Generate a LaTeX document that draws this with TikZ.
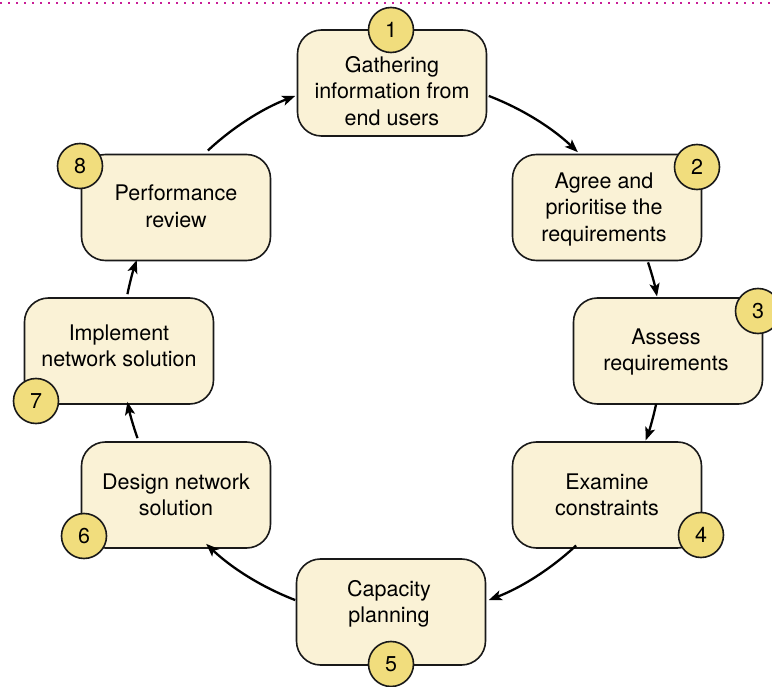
\documentclass[tikz,border=0pt]{standalone}
\usepackage{fontspec}
\setmainfont{TeX Gyre Heros}
\usetikzlibrary{arrows.meta,calc}
\definecolor{boxfill}{RGB}{250,242,214}
\definecolor{badgefill}{RGB}{241,221,125}
\definecolor{dotline}{RGB}{200,30,150}
\begin{document}
\begin{tikzpicture}[x=1pt,y=-1pt,
  stage/.style={draw=black!90, line width=1.6pt, fill=boxfill, rounded corners=24pt,
    minimum width=189pt, minimum height=106pt, inner sep=0pt},
  stagetext/.style={align=center, inner sep=0pt, font=\fontsize{21.5}{26.5}\selectfont, text=black},
  badge/.style={circle, draw=black!90, line width=1.6pt, fill=badgefill, minimum size=45pt,
    inner sep=0pt, font=\fontsize{21.5}{26}\selectfont},
  flow/.style={line width=2.3pt, -{Stealth[length=13pt,width=10pt,inset=3pt]}}]

\useasboundingbox (0,0) rectangle (772,687);
\draw[dotline, line width=1.8pt, dash pattern=on 1.6pt off 6.4pt] (0,3) -- (772,3);

% stage boxes
\node[stage] (b1) at (392,83) {};
\node[stage] (b2) at (607,207.5) {};
\node[stage] (b3) at (668,351) {};
\node[stage] (b4) at (607,495) {};
\node[stage] (b5) at (391,612) {};
\node[stage] (b6) at (176,495) {};
\node[stage] (b7) at (119,351) {};
\node[stage] (b8) at (176,207.5) {};

% stage texts
\node[stagetext] (t1) at ($(b1)+(0,8)$) {Gathering\\information from\\end users};
\node[stagetext] (t2) at ($(b2)+(-3,2)$) {Agree and\\prioritise the\\requirements};
\node[stagetext] (t3) at ($(b3)+(-2,1)$) {Assess\\requirements};
\node[stagetext] (t4) at (b4) {Examine\\constraints};
\node[stagetext] (t5) at ($(b5)+(-2,-8)$) {Capacity\\planning};
\node[stagetext] (t6) at (b6) {Design network\\solution};
\node[stagetext] (t7) at ($(b7)+(0,-5)$) {Implement\\network solution};
\node[stagetext] (t8) at ($(b8)+(0,-1)$) {Performance\\review};

% circular flow between the stages
\coordinate (O) at (392,348);
\def\R{270}
\foreach \s/\e/\n in {-69/-46.5/12, -18.5/-11/23, 12/20/34, 47/69/45,
                      111/133.5/56, 160.5/168.5/67, 191.5/199/78, 227/249/81}{
  \path (O) ++(\s:\R) coordinate (f\n);
  \draw[flow] (f\n) arc[start angle=\s, end angle=\e, radius=\R];
}

% step numbers
\node[badge] (n1) at (391,30) {1};
\node[badge] (n2) at (697,167) {2};
\node[badge] (n3) at (758,311) {3};
\node[badge] (n4) at (701,535) {4};
\node[badge] (n5) at (391,664) {5};
\node[badge] (n6) at (84,536) {6};
\node[badge] (n7) at (36,401) {7};
\node[badge] (n8) at (80,166) {8};
\end{tikzpicture}
\end{document}
